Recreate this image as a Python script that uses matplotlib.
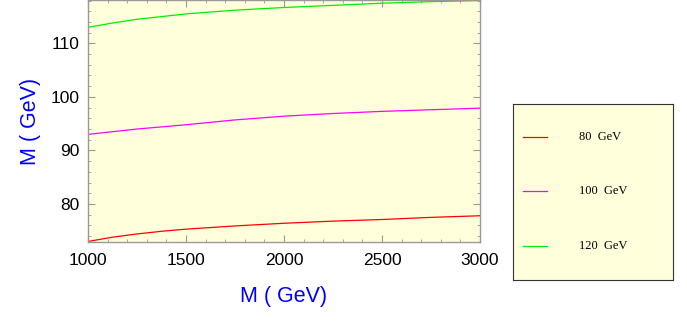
import matplotlib
matplotlib.use("Agg")
import matplotlib.pyplot as plt
from matplotlib.ticker import MultipleLocator

# M (GeV) on the x axis
mass = [1000, 1125, 1250, 1375, 1500, 1750, 2000, 2250, 2500, 2750, 3000]

# curves, one per Higgs mass
m80 = [73.0, 73.8, 74.4, 74.9, 75.3, 75.9, 76.4, 76.8, 77.1, 77.5, 77.8]
m100 = [93.0, 93.5, 94.0, 94.4, 94.8, 95.7, 96.4, 96.9, 97.3, 97.6, 97.9]
m120 = [113.0, 113.8, 114.5, 115.0, 115.5, 116.2, 116.7, 117.1, 117.5, 117.8, 118.0]

labels = ["80  GeV", "100  GeV", "120  GeV"]
colors = ["#ff0000", "#ff00ff", "#00ee00"]

bg = "#ffffdc"
frame = "#999999"

plt.rcParams['font.family'] = ['Liberation Sans', 'DejaVu Sans']

fig = plt.figure(figsize=(6.87, 3.22), dpi=100)
ax = fig.add_axes([88/687, 80/322, 392/687, 242/322])
ax.set_facecolor(bg)

for ys, c in zip([m80, m100, m120], colors):
    ax.plot(mass, ys, color=c, lw=0.9)

ax.set_xlim(1000, 3000)
ax.set_ylim(72.9, 118.1)
ax.xaxis.set_major_locator(MultipleLocator(500))
ax.xaxis.set_minor_locator(MultipleLocator(100))
ax.yaxis.set_major_locator(MultipleLocator(10))
ax.yaxis.set_minor_locator(MultipleLocator(2))
ax.tick_params(which='both', direction='in', top=True, right=True,
               color=frame, labelsize=12.5)
ax.tick_params(axis='x', pad=8)
ax.tick_params(axis='y', pad=6)
ax.tick_params(which='major', length=5, width=0.8)
ax.tick_params(which='minor', length=2.5, width=0.6)
for s in ax.spines.values():
    s.set_color(frame)
    s.set_linewidth(1.0)

ax.set_xlabel("M ( GeV)", color="#0000ff", fontsize=15.5, labelpad=13)
ax.set_ylabel("M ( GeV)", color="#0000ff", fontsize=15.5, labelpad=7)

# legend box drawn as its own little panel
lax = fig.add_axes([513/687, 42/322, 160/687, 176/322])
lax.set_facecolor(bg)
lax.set_xlim(0, 1)
lax.set_ylim(0, 1)
lax.set_xticks([])
lax.set_yticks([])
for s in lax.spines.values():
    s.set_color("#333333")
    s.set_linewidth(0.8)
rows = [0.81, 0.506, 0.193]
for y, lab, c in zip(rows, labels, colors):
    lax.plot([0.06, 0.21], [y, y], color=c, lw=0.9)
    lax.text(0.41, y, lab, fontsize=9, va='center', ha='left',
             family=['Liberation Serif', 'DejaVu Serif'])

fig.savefig("out.png", dpi=100)
